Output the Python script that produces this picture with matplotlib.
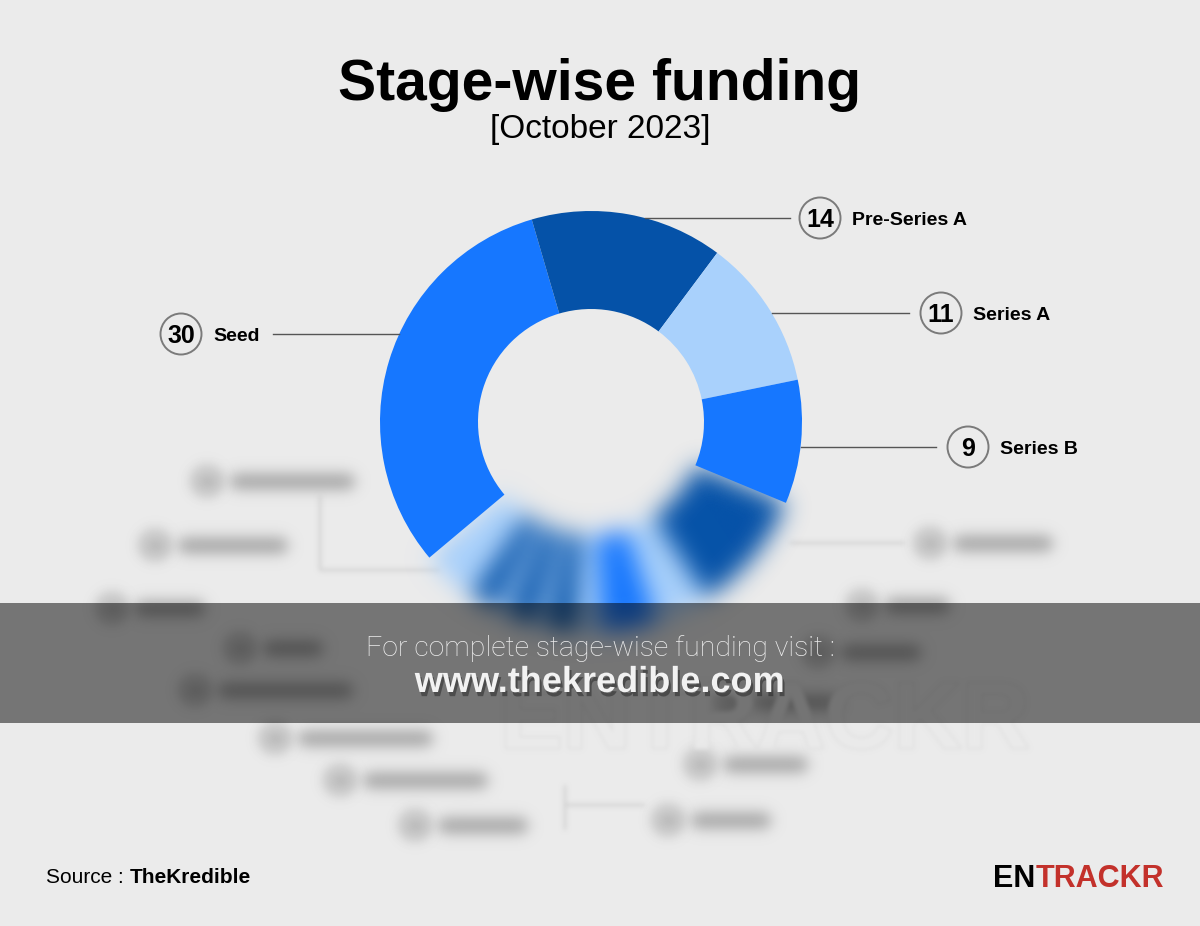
#!/usr/bin/env python3
import numpy as np
import matplotlib
matplotlib.use('Agg')
import matplotlib.pyplot as plt
from matplotlib.patches import Wedge, Circle, Rectangle
from matplotlib.collections import PatchCollection, LineCollection
import matplotlib.patheffects as pe

plt.rcParams['font.family'] = ['Liberation Sans', 'DejaVu Sans']

# stage-wise deal count, October 2023 (TheKredible)
stages = ['Seed', 'Pre-Series A', 'Series A', 'Series B']
deals = [30, 14, 11, 9]
# remaining stages sit under the blur, only their share of the ring is readable
hidden_deals = [9, 4, 4, 2, 2, 1, 2, 1, 2, 4]

BRIGHT, DARK, LIGHT = '#1677ff', '#0552a8', '#a9d1fc'
stage_colors = [BRIGHT, DARK, LIGHT, BRIGHT]
hidden_colors = [DARK, LIGHT, BRIGHT, LIGHT, DARK, LIGHT, DARK, LIGHT, DARK, LIGHT]

BG = '#ebebeb'
W, H = 1200, 926
CX, CY, R, RING = 591, 422, 211, 98

# label layout: circle centre x, y, side, far end of the leader line
label_layout = {
    'Seed': (181, 334, 'left', 273),
    'Pre-Series A': (820, 218, 'right', 790),
    'Series A': (941, 313, 'right', 909),
    'Series B': (968, 447, 'right', 936),
}

# blurred tags of the chart behind the banner (circle x, y, text length)
bg_tags = [(207, 481, 110), (155, 545, 95), (112, 608, 55), (240, 648, 45),
           (195, 690, 120), (275, 738, 120), (340, 780, 110), (415, 825, 75),
           (930, 543, 85), (862, 605, 50), (818, 652, 65), (730, 702, 70),
           (700, 764, 70), (668, 820, 65)]
bg_links = [[(320, 495), (320, 570)], [(320, 570), (440, 570)],
            [(790, 543), (905, 543)], [(565, 785), (565, 830)],
            [(565, 805), (645, 805)]]


class GaussBlur:
    def __init__(self, sigma):
        self.sigma = sigma

    def __call__(self, im, dpi):
        pad = int(3 * self.sigma)
        a = np.pad(im, ((pad, pad), (pad, pad), (0, 0)))
        a[..., :3] *= a[..., 3:]
        k = np.exp(-0.5 * (np.arange(-pad, pad + 1) / self.sigma) ** 2)
        k /= k.sum()
        for axis in (0, 1):
            out = np.zeros_like(a)
            for i, wt in enumerate(k):
                out += wt * np.roll(a, i - pad, axis=axis)
            a = out
        alpha = np.clip(a[..., 3:], 0, 1)
        rgb = np.where(alpha > 1e-4, a[..., :3] / np.maximum(alpha, 1e-4), 0)
        return np.concatenate([np.clip(rgb, 0, 1), alpha], axis=2), -pad, -pad


fig = plt.figure(figsize=(W / 100, H / 100), dpi=100, facecolor=BG)
ax = fig.add_axes([0, 0, 1, 1])

wedges, _ = ax.pie(deals + hidden_deals, colors=stage_colors + hidden_colors,
                   startangle=140, counterclock=True, radius=R, center=(CX, CY),
                   wedgeprops=dict(width=RING, linewidth=0))
ax.set_xlim(0, W)
ax.set_ylim(H, 0)
ax.set_aspect('auto')
ax.axis('off')

n = len(deals)
for w in wedges[:n]:
    w.set_zorder(3)

# blurred part of the ring, drawn as one collection so it blurs as a whole
blur_parts = []
for w in wedges[n:]:
    blur_parts.append(Wedge(w.center, w.r, w.theta1, w.theta2, width=w.width,
                            facecolor=w.get_facecolor(), linewidth=0))
    w.remove()
ring = PatchCollection(blur_parts, match_original=True, zorder=2)
ring.set_agg_filter(GaussBlur(12))
ax.add_collection(ring)

# background tags (blurred)
bars = [[(x + 30, y), (x + 30 + L, y)] for x, y, L in bg_tags]
bars += [[(x - 3, y), (x + 3, y)] for x, y, L in bg_tags]
lc = LineCollection(bars, colors='#a4a4a4', linewidths=11, capstyle='round', zorder=1)
lc.set_agg_filter(GaussBlur(7))
ax.add_collection(lc)
links = LineCollection(bg_links, colors='#c8c8c8', linewidths=1.5, zorder=1)
links.set_agg_filter(GaussBlur(2.5))
ax.add_collection(links)
rings = PatchCollection([Circle((x, y), 13) for x, y, L in bg_tags],
                        facecolor='none', edgecolor='#b0b0b0', linewidth=3, zorder=1)
rings.set_agg_filter(GaussBlur(6))
ax.add_collection(rings)

wm = ax.text(765, 748, 'ENTRACKR', ha='center', va='baseline', fontsize=68,
             fontweight='bold', color=BG, zorder=1,
             path_effects=[pe.withStroke(linewidth=2, foreground='#dedede')])
wm.set_agg_filter(GaussBlur(2))

# labels
for name, cnt in zip(stages, deals):
    x, y, side, x_end = label_layout[name]
    dx = np.sqrt(R ** 2 - (y - CY) ** 2)
    x_ring = CX + dx if side == 'right' else CX - dx
    ax.plot([x_ring, x_end], [y, y], color='#555555', lw=1, zorder=4)
    ax.add_patch(Circle((x, y), 20.5, fill=False, ec='#7a7a7a', lw=1.4, zorder=4))
    ax.text(x, y + 9, str(cnt), ha='center', va='baseline', fontsize=18,
            fontweight='bold', zorder=4)
    ax.text(x + 32, y + 7, name, ha='left', va='baseline', fontsize=14,
            fontweight='bold', zorder=4)

# title
ax.text(600, 100, 'Stage-wise funding', ha='center', va='baseline',
        fontsize=41, fontweight='bold')
ax.text(600, 138, '[October 2023]', ha='center', va='baseline', fontsize=24)

# banner
ax.add_patch(Rectangle((0, 603), W, 120, fc='black', alpha=0.5, lw=0, zorder=5))
ax.text(600, 656, 'For complete stage-wise funding visit :', ha='center',
        va='baseline', fontsize=20.5, color='#ededed', zorder=6,
        family=['Roboto', 'DejaVu Sans'], fontweight='light')
ax.text(600, 692, 'www.thekredible.com', ha='center', va='baseline',
        fontsize=26, fontweight='bold', color='#f2f2f2', zorder=6,
        path_effects=[pe.withSimplePatchShadow(offset=(1.5, -3),
                                               shadow_rgbFace='black', alpha=0.35)])

# footer
src = ax.text(46, 883, 'Source :', ha='left', va='baseline', fontsize=15)
ax.annotate('TheKredible', xy=(1, 0), xycoords=src, xytext=(4, 0),
            textcoords='offset points', ha='left', va='bottom',
            fontsize=15, fontweight='bold')
tr = ax.text(1164, 887, 'TRACKR', ha='right', va='baseline', fontsize=22,
             fontweight='bold', color='#c3312b')
ax.annotate('EN', xy=(0, 0), xycoords=tr, ha='right', va='bottom',
            fontsize=22, fontweight='bold', color='black')

fig.savefig('out.png', dpi=100, facecolor=BG)
